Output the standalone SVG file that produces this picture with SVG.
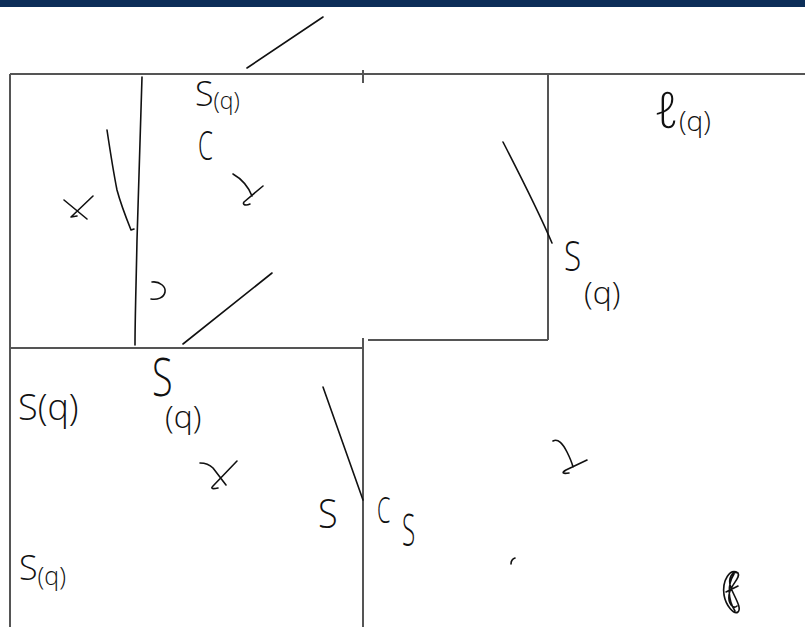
<svg xmlns="http://www.w3.org/2000/svg" width="805" height="627" viewBox="0 0 805 627">
<style>
.frame{stroke:#555;stroke-width:2;fill:none}
.ink{stroke:#111;stroke-width:1.6;fill:none;stroke-linecap:round;stroke-linejoin:round}
.hw{font-family:"Open Sans","DejaVu Sans",sans-serif;font-weight:300;fill:#111}
</style>
<rect x="0" y="0" width="805" height="7" fill="#0c2e58"/>
<rect x="0" y="7" width="805" height="620" fill="#fff"/>
<g id="frame">
<path class="frame" d="M10,74 H805 M10,74 V627 M10,348 H363 M363,70 V83 M548,74 V340 M368,340 H548 M363,338 V627"/>
</g>
<g id="strokes">
<path class="ink" d="M247,68 L323,17"/>
<path class="ink" d="M142,77 C141,120 139,180 137,240 C136,290 135,320 135,345"/>
<path class="ink" d="M107,130 C110,150 113,170 117,190 C121,205 127,220 131,230 L134,229"/>
<path class="ink" d="M64,200 L87,219 M93,196 L71,217 L77,216"/>
<path class="ink" d="M233,174 C240,178 248,186 252,196 M263,186 L244,202 C242,205 246,206 250,204"/>
<path class="ink" d="M152,282 C160,281 166,287 165,292 C164,298 157,300 151,299"/>
<path class="ink" d="M183,344 L272,273"/>
<path class="ink" d="M503,142 C520,175 538,210 552,243"/>
<path class="ink" d="M200,463 C206,463 210,465 213,468 L226,485 M237,461 L213,486 C210,489 213,489 218,488"/>
<path class="ink" d="M323,387 L363,500"/>
<path class="ink" d="M553,441 C558,438 563,444 567,452 C570,458 572,463 573,467 M587,460 L566,470 C561,473 563,474 569,473"/>
<path class="ink" d="M515,558 C512,559 511,561 511,564"/>
<path class="ink" d="M738,573 C730,568 722,580 724,595 C726,606 734,615 738,612 C742,608 735,598 731,588 C727,578 733,570 738,573 C741,578 730,585 729,595 C728,603 733,610 737,606 M734,574 C727,585 728,600 735,611 M726,592 L738,586"/>
</g>
<g id="labels">
<text class="hw" x="195" y="106"><tspan font-size="34">S</tspan><tspan font-size="23" dy="3">(q)</tspan></text>
<text class="hw" font-size="40" transform="translate(198,160) scale(0.6,1)">C</text>
<text class="hw" x="654" y="128"><tspan font-size="50">ℓ</tspan><tspan font-size="28" dy="3">(q)</tspan></text>
<text class="hw" font-size="42" transform="translate(564,271) scale(0.75,1)">S</text>
<text class="hw" x="584" y="304" font-size="32">(q)</text>
<text class="hw" x="18" y="420" font-size="36">S(q)</text>
<text class="hw" font-size="54" transform="translate(152,396) scale(0.7,1)">S</text>
<text class="hw" x="165" y="428" font-size="32">(q)</text>
<text class="hw" font-size="40" transform="translate(318,528) scale(0.9,1)">S</text>
<text class="hw" font-size="36" transform="translate(377,523) scale(0.6,1)">C</text>
<text class="hw" font-size="44" transform="translate(402,546) scale(0.55,1)">S</text>
<text class="hw" x="19" y="580"><tspan font-size="34">S</tspan><tspan font-size="25" dy="5">(q)</tspan></text>
</g>
</svg>
